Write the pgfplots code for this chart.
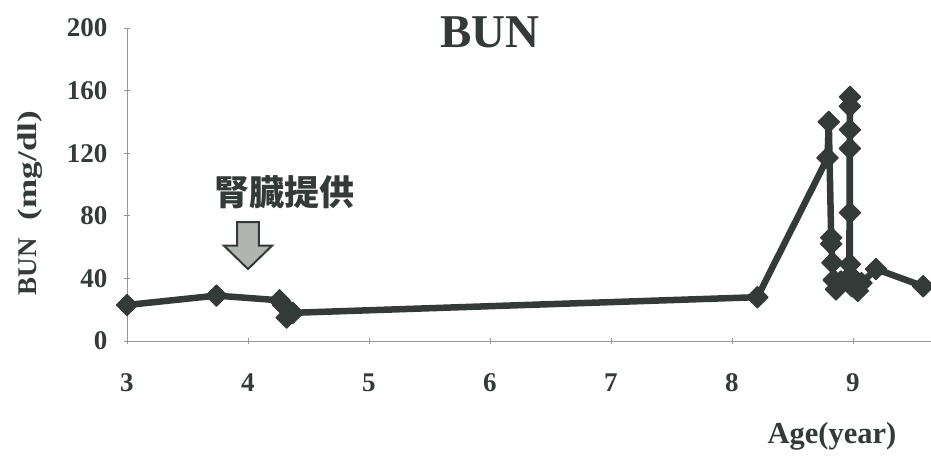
\documentclass[border=0pt]{standalone}
\usepackage{pgfplots}
\pgfplotsset{compat=1.18}
\usepackage{fontspec}
\setmainfont{Liberation Serif}
\newfontfamily\cjk{Noto Sans CJK JP}
\definecolor{ink}{RGB}{52,58,55}
\definecolor{axisgray}{RGB}{150,150,150}
\definecolor{arrowfill}{RGB}{178,180,178}

\begin{document}
\begin{tikzpicture}[x=1pt,y=1pt]
\useasboundingbox (-127,-114) rectangle (804,341);
\begin{axis}[
  at={(0,0)}, anchor=south west,
  scale only axis,
  width=804pt, height=313pt,
  xmin=3, xmax=9.645,
  ymin=0, ymax=200,
  axis x line*=bottom,
  axis y line*=left,
  axis line style={axisgray, line width=0.8pt, -},
  xtick={3,4,5,6,7,8,9},
  ytick={0,40,80,120,160,200},
  tick style={axisgray, line width=0.8pt},
  tick align=center,
  major tick length=6pt,
  /pgf/number format/assume math mode=true,
  ticklabel style={font=\fontsize{27}{30}\selectfont\bfseries, text=ink},
  xticklabel style={yshift=-26pt},
  yticklabel style={xshift=-13pt},
  clip=false,
]
\addplot[ink, line width=6.5pt, line join=round,
  mark=square*, mark size=7.6pt,
  mark options={rotate=45, fill=ink, draw=ink, line width=1pt}]
  coordinates {
  (3.00,23) (3.74,29) (4.26,26) (4.29,23) (4.32,15) (4.37,18)
  (8.21,28) (8.79,117) (8.80,140) (8.82,66) (8.82,62) (8.83,50)
  (8.84,39) (8.86,33) (8.90,38) (8.97,40) (8.975,156) (8.975,150)
  (8.975,135) (8.975,123) (8.975,82) (8.975,49) (8.98,42) (8.99,35)
  (9.04,32) (9.07,37) (9.19,46) (9.58,35)
  };
% kidney donation marker
\draw[ink, line width=2pt, fill=arrowfill, line join=miter]
  (axis cs:3.91,76) -- (axis cs:4.09,76) -- (axis cs:4.09,61)
  -- (axis cs:4.20,61) -- (axis cs:4.0,46) -- (axis cs:3.80,61)
  -- (axis cs:3.91,61) -- cycle;
\node[text=ink, font=\cjk\fontsize{35}{38}\selectfont\bfseries]
  at (axis cs:4.30,95) {腎臓提供};
\node[text=ink, font=\fontsize{47}{50}\selectfont\bfseries]
  at (axis cs:6.0,197) {BUN};
\end{axis}
\node[rotate=90, text=ink, font=\fontsize{27}{30}\selectfont\bfseries]
  at (-97,138) {BUN\hspace{18pt}\scalebox{1.3}[1]{(mg/dl)}};
\node[text=ink, font=\fontsize{30.5}{34}\selectfont\bfseries]
  at (705,-95) {Age(year)};
\end{tikzpicture}
\end{document}
